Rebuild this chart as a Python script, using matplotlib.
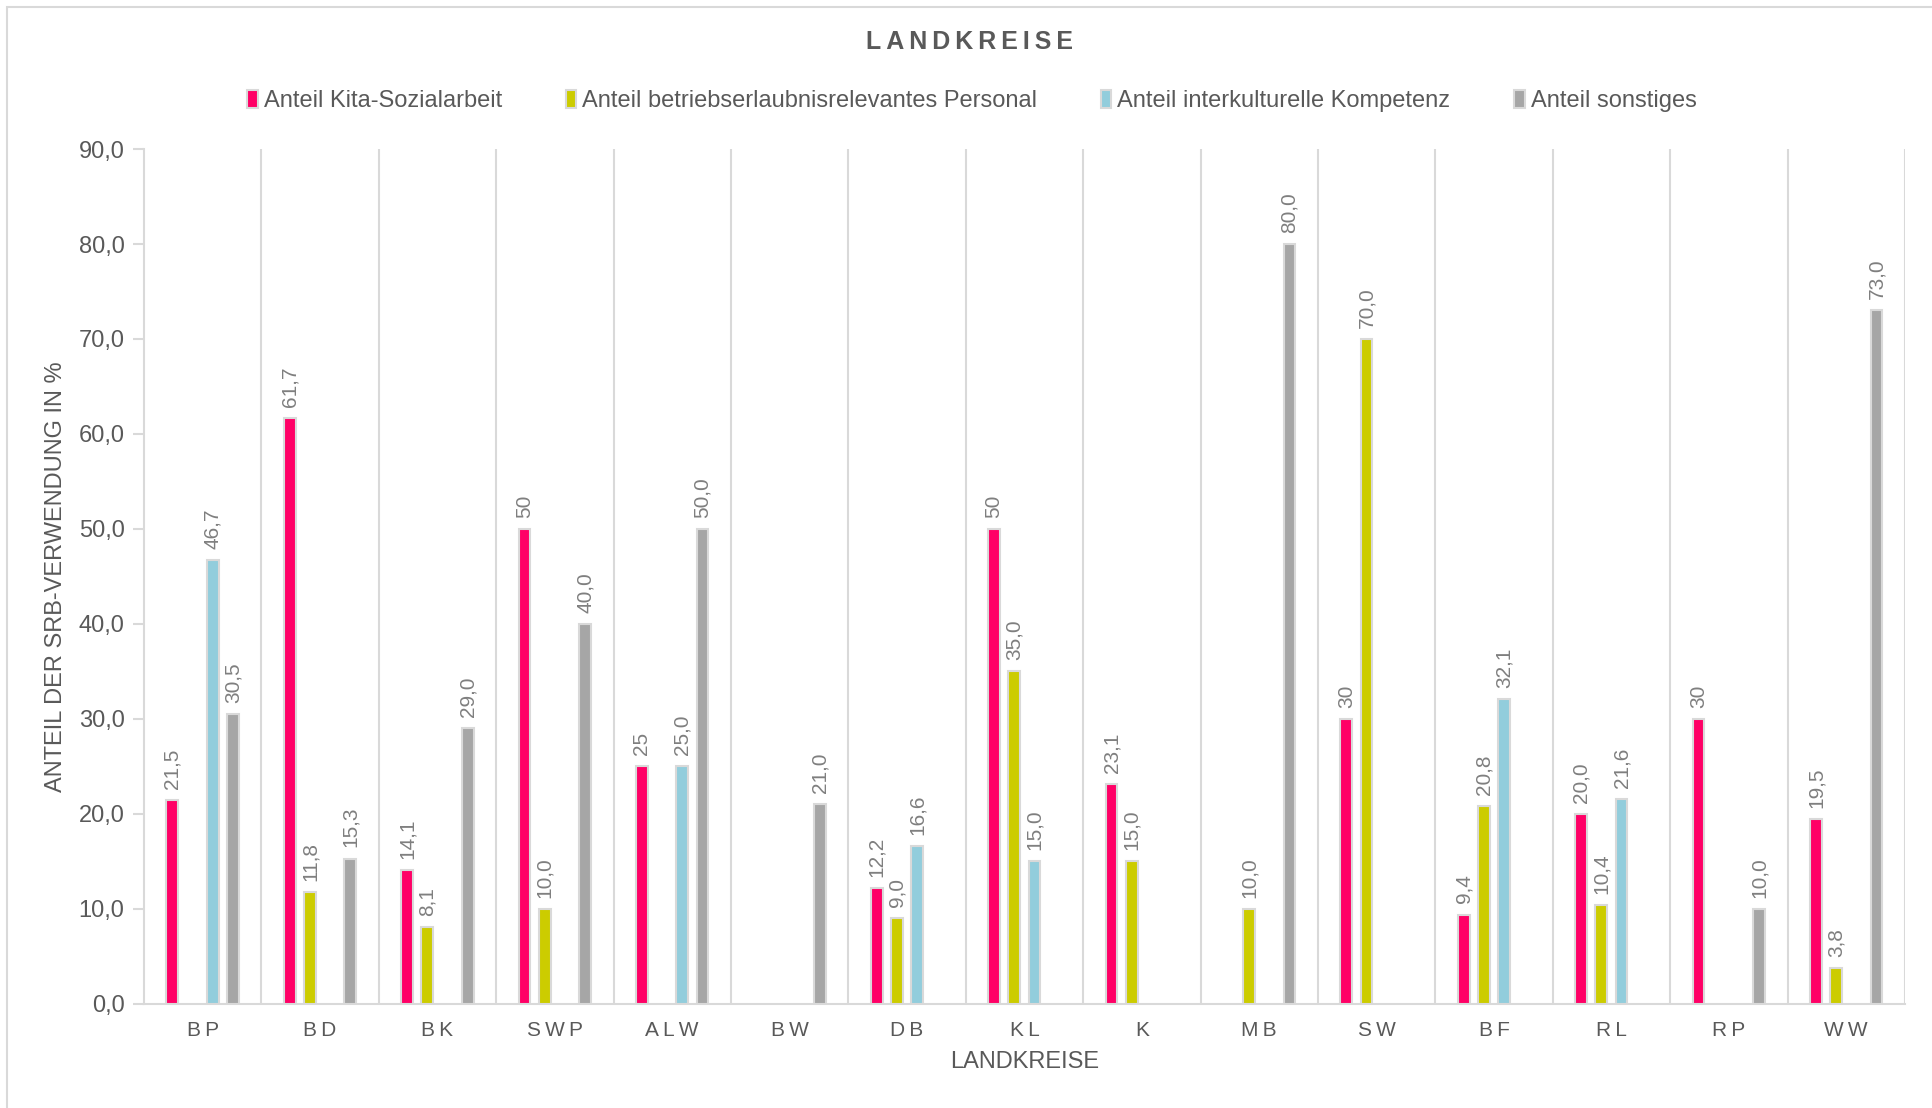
import numpy as np
import matplotlib.pyplot as plt
from matplotlib.patches import Rectangle

plt.rcParams['font.family'] = ['Liberation Sans', 'DejaVu Sans']

kreise = ["BP", "BD", "BK", "SWP", "ALW", "BW", "DB", "KL", "K", "MB", "SW", "BF", "RL", "RP", "WW"]

series_names = ["Anteil Kita-Sozialarbeit",
                "Anteil betriebserlaubnisrelevantes Personal",
                "Anteil interkulturelle Kompetenz",
                "Anteil sonstiges"]

# None = no bar in this Landkreis
kita = [21.5, 61.7, 14.1, 50, 25, None, 12.2, 50, 23.1, None, 30, 9.4, 20.0, 30, 19.5]
personal = [None, 11.8, 8.1, 10.0, None, None, 9.0, 35.0, 15.0, 10.0, 70.0, 20.8, 10.4, None, 3.8]
interkult = [46.7, None, None, None, 25.0, None, 16.6, 15.0, None, None, None, 32.1, 21.6, None, None]
sonstiges = [30.5, 15.3, 29.0, 40.0, 50.0, 21.0, None, None, None, 80.0, None, None, None, 10.0, 73.0]

# labels as printed in the chart (some without decimals)
kita_labels = ["21,5", "61,7", "14,1", "50", "25", "", "12,2", "50", "23,1", "", "30", "9,4", "20,0", "30", "19,5"]

colors = ["#FF0066", "#CCCC00", "#92CDDC", "#A6A6A6"]
grid_col = "#D9D9D9"
text_col = "#595959"
label_col = "#7F7F7F"

THIN = "\u2009"  # used to mimic the letter spacing of the original


def spaced(s):
    return THIN.join(s)


fig = plt.figure(figsize=(19.32, 11.08), dpi=100)
ax = fig.add_axes([0.0745, 0.094, 0.9115, 0.7715])

x = np.arange(len(kreise))
step = 0.172
bw = 0.1
all_series = [kita, personal, interkult, sonstiges]

for i, vals in enumerate(all_series):
    offs = (i - 1.5) * step
    for j, v in enumerate(vals):
        if v is None:
            continue
        ax.bar(x[j] + offs, v, width=bw, color=colors[i], edgecolor=grid_col, linewidth=1.5, zorder=3)
        if i == 0:
            lab = kita_labels[j]
        else:
            lab = ("%.1f" % v).replace(".", ",")
        ax.annotate(lab, (x[j] + offs, v), xytext=(0, 8), textcoords="offset points",
                    rotation=90, ha="center", va="bottom", fontsize=15, color=label_col)

ax.set_xlim(-0.5, len(kreise) - 0.5)
ax.set_ylim(0, 90)
ax.set_yticks(np.arange(0, 91, 10))
ax.set_yticklabels([("%.1f" % t).replace(".", ",") for t in np.arange(0, 91, 10)])
ax.set_xticks(x)
ax.set_xticklabels([spaced(k) for k in kreise])

# separators between groups
for b in np.arange(0.5, len(kreise), 1.0):
    ax.axvline(b, color=grid_col, linewidth=1.5, zorder=1)

for pos in ['top', 'right']:
    ax.spines[pos].set_visible(False)
for pos in ['left', 'bottom']:
    ax.spines[pos].set_color(grid_col)
    ax.spines[pos].set_linewidth(1.5)

ax.tick_params(axis='y', which='both', direction='out', length=8, color=grid_col, width=1.5,
               labelsize=17, labelcolor=text_col, pad=6)
ax.tick_params(axis='x', which='both', length=0, labelsize=15, labelcolor=text_col, pad=12)

ax.set_xlabel("LANDKREISE", fontsize=17, color=text_col, labelpad=8)
ax.set_ylabel("ANTEIL DER SRB-VERWENDUNG IN %", fontsize=17, color=text_col, labelpad=8)

fig.text(0.502, 0.962, spaced("LANDKREISE"), ha="center", va="center", fontsize=18,
         fontweight="bold", color=text_col)

handles = [Rectangle((0, 0), 1, 1, facecolor=c, edgecolor=grid_col, linewidth=1.5) for c in colors]
fig.legend(handles, series_names, loc="center", bbox_to_anchor=(0.503, 0.909), ncol=4,
           frameon=False, fontsize=17, labelcolor=text_col, handlelength=0.45, handleheight=0.8,
           handletextpad=0.25, columnspacing=2.7)

# outer frame
fig.patches.append(Rectangle((7 / 1932, -0.01), 1.0, 1 - 7 / 1108 + 0.01, transform=fig.transFigure,
                             fill=False, edgecolor=grid_col, linewidth=1.5))

plt.savefig("out.png", dpi=100)
